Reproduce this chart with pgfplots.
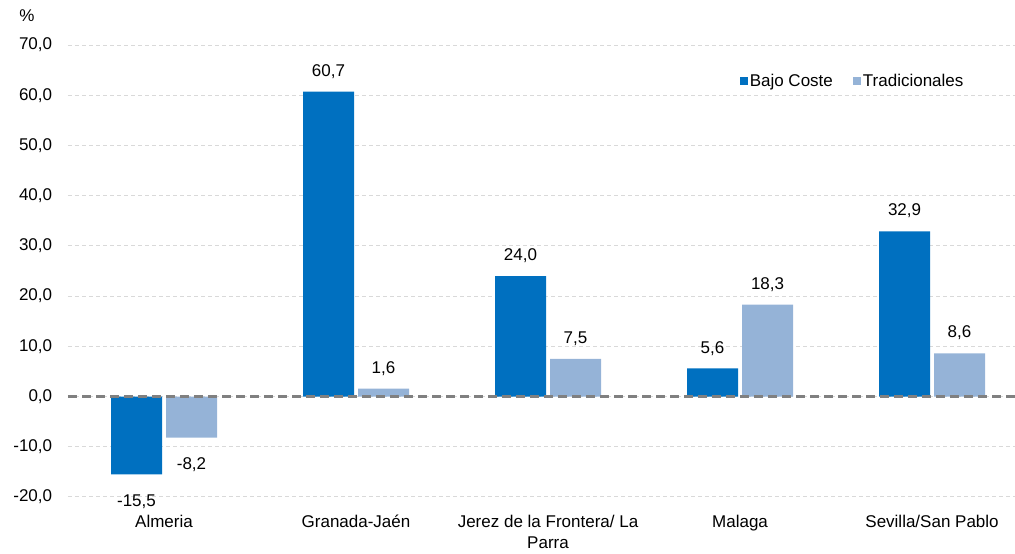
\documentclass[border=0pt]{standalone}
\usepackage{pgfplots}
\pgfplotsset{compat=1.18}
\usepackage{fontspec}
\setmainfont{Liberation Sans}
\definecolor{bajo}{HTML}{0070C0}
\definecolor{trad}{HTML}{95B3D7}
\definecolor{gridc}{HTML}{D9D9D9}
\definecolor{zeroc}{HTML}{808080}
\begin{document}
\fontsize{17}{20}\selectfont
\begin{tikzpicture}
\useasboundingbox (0,0) rectangle (1015pt,554pt);
\begin{axis}[
  at={(68pt,57pt)}, anchor=south west,
  scale only axis, width=947pt, height=452pt,
  ybar=4pt, bar width=51pt,
  xmin=-0.5, xmax=4.432, ymin=-20, ymax=70,
  xtick={0,1,2,3,4},
  xticklabels={Almeria,Granada-Jaén,{Jerez de la Frontera/ La\\Parra},Malaga,Sevilla/San Pablo},
  xticklabel style={align=center, yshift=-12pt, font=\fontsize{17}{21}\selectfont},
  ytick={-20,-10,...,70},
  yticklabel style={xshift=-10pt, /pgf/number format/.cd, fixed, fixed zerofill, precision=1, use comma, assume math mode=true},
  ticklabel style={font=\fontsize{17}{20}\selectfont},
  major tick length=0pt,
  axis line style={draw=none},
  ymajorgrids, grid style={gridc, dash pattern=on 4pt off 3pt, line width=1pt},
  visualization depends on={y \as \rawy},
  nodes near coords={\pgfmathprintnumber[fixed,fixed zerofill,precision=1,use comma,assume math mode=true]{\pgfplotspointmeta}},
  nodes near coords style={font=\fontsize{17}{20}\selectfont, black, inner ysep=8pt, yshift={ifthenelse(\rawy<0,-12,5)*1pt}},
  legend style={at={(0.951,0.945)}, anchor=north east, draw=none, fill=none, legend columns=2, font=\fontsize{17}{20}\selectfont, /tikz/every even column/.append style={column sep=18pt}},
  legend image code/.code={\fill[#1] (0pt,-4pt) rectangle (8pt,4pt);},
  clip=false,
]
\addplot[fill=bajo, draw=none] coordinates {(0,-15.5) (1,60.7) (2,24.0) (3,5.6) (4,32.9)};
\addplot[fill=trad, draw=none] coordinates {(0,-8.2) (1,1.6) (2,7.5) (3,18.3) (4,8.6)};
\legend{Bajo Coste, Tradicionales}
\draw[zeroc, line width=2.5pt, dash pattern=on 9pt off 5pt] (axis cs:-0.5,0) -- (axis cs:4.432,0);
\end{axis}
\node[anchor=south] at (27pt,527pt) {\%};
\end{tikzpicture}
\end{document}
